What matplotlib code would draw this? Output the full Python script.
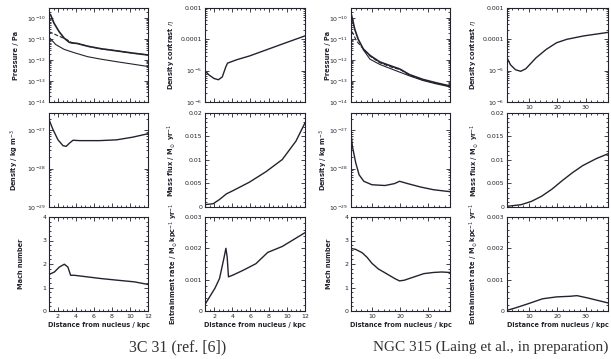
import numpy as np
import matplotlib
matplotlib.use("Agg")
from matplotlib import pyplot as plt
from matplotlib.ticker import AutoMinorLocator, LogLocator, NullFormatter

# ---- 3C 31 data (distance in kpc) ----
p1_hi_x = [1.0, 1.19, 1.56, 2.12, 2.68, 3.24, 3.5, 4.17, 5.29, 6.78, 8.65, 10.5, 12.0]
p1_hi_y = [-9.75, -9.84, -10.23, -10.63, -10.94, -11.14, -11.17, -11.2, -11.33, -11.45, -11.56, -11.67, -11.75]
p1_mid_x = [1.0, 1.5, 2.0, 2.5, 3.0, 3.5, 4.17, 5.29, 6.78, 8.65, 10.5, 12.0]
p1_mid_y = [-10.63, -10.73, -10.83, -10.92, -11.02, -11.15, -11.2, -11.33, -11.45, -11.56, -11.67, -11.75]
p1_lo_x = [1.0, 1.1, 1.75, 2.68, 3.8, 5.29, 6.78, 8.65, 10.5, 12.0]
p1_lo_y = [-10.9, -10.94, -11.25, -11.48, -11.64, -11.83, -11.95, -12.08, -12.2, -12.3]

eta1_x = [1.0, 1.5, 2.0, 2.47, 2.9, 3.3, 3.48, 4.5, 5.9, 7.8, 9.6, 12.0]
eta1_y = [-5.02, -5.15, -5.25, -5.29, -5.2, -4.87, -4.76, -4.65, -4.53, -4.33, -4.14, -3.89]

rho1_x = [1.0, 1.44, 2.0, 2.55, 2.9, 3.3, 3.67, 4.4, 6.6, 8.5, 10.3, 12.0]
rho1_y = [-26.72, -26.98, -27.25, -27.4, -27.42, -27.33, -27.26, -27.27, -27.27, -27.25, -27.18, -27.09]

mf1_x = [1.0, 1.9, 2.6, 3.36, 4.1, 5.0, 5.9, 7.7, 9.5, 11.0, 12.0]
mf1_y = [0.0005, 0.0007, 0.0016, 0.0028, 0.0035, 0.0044, 0.0053, 0.0075, 0.0101, 0.0140, 0.0179]

mach1_x = [1.0, 1.6, 2.15, 2.7, 3.1, 3.4, 3.8, 5.3, 6.8, 8.6, 10.5, 12.0]
mach1_y = [1.55, 1.66, 1.87, 1.99, 1.87, 1.52, 1.52, 1.45, 1.38, 1.31, 1.24, 1.13]

ent1_x = [1.0, 1.55, 2.1, 2.6, 3.07, 3.3, 3.44, 3.58, 4.1, 5.2, 6.6, 7.9, 9.5, 12.0]
ent1_y = [0.00021, 0.00047, 0.00073, 0.00104, 0.00167, 0.0020, 0.00172, 0.00109, 0.00115, 0.0013, 0.00151, 0.00187, 0.00206, 0.0025]

# ---- NGC 315 data ----
p2_a_x = [2.5, 2.9, 3.7, 4.9, 6.7, 9.1, 12.6, 17.4, 19.8, 23.3, 28.1, 32.8, 37.7]
p2_a_y = [-9.85, -10.08, -10.54, -11.0, -11.46, -11.77, -12.08, -12.31, -12.42, -12.69, -12.92, -13.08, -13.23]
p2_b_x = [2.5, 2.9, 4.3, 6.7, 9.1, 12.6, 17.4, 20.0, 23.3, 28.1, 32.8, 37.7]
p2_b_y = [-10.62, -10.69, -11.08, -11.46, -11.8, -12.12, -12.36, -12.45, -12.72, -12.95, -13.1, -13.25]
p2_c_x = [6.7, 9.1, 12.6, 17.4, 23.3, 28.1, 32.8, 37.7]
p2_c_y = [-11.5, -11.95, -12.2, -12.45, -12.75, -12.97, -13.13, -13.27]

eta2_x = [2.3, 3.5, 5.3, 7.1, 8.9, 12.5, 16.1, 19.7, 23.3, 29.3, 37.7]
eta2_y = [-4.59, -4.81, -4.97, -5.02, -4.94, -4.59, -4.32, -4.11, -4.0, -3.89, -3.78]

rho2_x = [2.5, 2.8, 4.0, 5.2, 6.9, 9.8, 14.5, 17.9, 19.7, 22.6, 27.3, 31.9, 37.7]
rho2_y = [-27.2, -27.42, -27.85, -28.16, -28.33, -28.42, -28.44, -28.39, -28.33, -28.39, -28.48, -28.55, -28.6]

mf2_x = [2.3, 7.3, 10.9, 14.5, 18.1, 21.7, 25.3, 28.9, 33.7, 37.7]
mf2_y = [0.00014, 0.0005, 0.0012, 0.0023, 0.0038, 0.0056, 0.0073, 0.0088, 0.0103, 0.0113]

mach2_x = [2.5, 4.0, 6.3, 8.1, 9.8, 12.1, 15.0, 18.0, 19.7, 21.4, 24.9, 28.4, 31.9, 34.8, 37.7]
mach2_y = [2.66, 2.62, 2.48, 2.28, 2.03, 1.79, 1.59, 1.38, 1.28, 1.31, 1.45, 1.59, 1.64, 1.66, 1.64]

ent2_x = [2.3, 5.3, 10.0, 14.8, 19.7, 24.5, 26.9, 30.5, 34.1, 37.7]
ent2_y = [0.00002, 0.0001, 0.00024, 0.00039, 0.00045, 0.00047, 0.00049, 0.00042, 0.00034, 0.00026]

col_x = [(49, 148), (205, 305), (351, 450), (507, 608)]
row_y = [(8, 102), (113, 207), (217, 311)]
# distance (px) from axes left edge to the centre of each y label
lab_off = [[33, 31, 28], [32, 30, 28], [23, 24, 22], [32, 29, 30]]
W, H = 611, 359
ink = '#23232f'
fs = 4.5

fig = plt.figure(figsize=(W / 100, H / 100), dpi=100)


def panel(c, r):
    x0, x1 = col_x[c]
    y0, y1 = row_y[r]
    ax = fig.add_axes([x0 / W, 1 - y1 / H, (x1 - x0) / W, (y1 - y0) / H])
    for s in ax.spines.values():
        s.set_color(ink)
        s.set_linewidth(0.8)
    ax.tick_params(which='both', direction='in', top=True, right=True,
                   labelsize=fs, colors=ink, width=0.6, pad=2)
    ax.tick_params(which='major', length=3)
    ax.tick_params(which='minor', length=1.5)
    return ax


def setx(ax, c, r):
    if c < 2:
        ax.set_xlim(1, 12)
        ax.set_xticks([2, 4, 6, 8, 10, 12])
        ax.xaxis.set_minor_locator(AutoMinorLocator(4))
    else:
        ax.set_xlim(2.3, 37.8)
        ax.set_xticks([10, 20, 30])
        ax.xaxis.set_minor_locator(AutoMinorLocator(5))
    if r < 2 and not (c == 3 and r == 0):
        ax.set_xticklabels([])
    if r == 2:
        ax.set_xlabel('Distance from nucleus / kpc', fontsize=4.7, color=ink,
                      fontweight='bold', labelpad=2)


def logy(ax, lo, hi):
    ax.set_yscale('log')
    ax.set_ylim(10.0 ** lo, 10.0 ** hi)
    ax.yaxis.set_minor_locator(LogLocator(base=10, subs=np.arange(2, 10)))
    ax.yaxis.set_minor_formatter(NullFormatter())


def ylab(ax, c, r, s):
    ax.set_ylabel(s, fontsize=4.8, color=ink, fontweight='bold')
    w = col_x[c][1] - col_x[c][0]
    ax.yaxis.set_label_coords(-(lab_off[c][r] - 3) / w, 0.5)


def draw(ax, x, ylog, ls='-', lw=1.0):
    ax.plot(x, 10.0 ** np.array(ylog), color=ink, ls=ls, lw=lw)


press_ticks = [1e-14, 1e-13, 1e-12, 1e-11, 1e-10]
press_labels = ['$10^{-14}$', '$10^{-13}$', '$10^{-12}$', '$10^{-11}$', '$10^{-10}$']
eta_ticks = [1e-6, 1e-5, 1e-4, 1e-3]
eta_labels = ['$10^{-6}$', '$10^{-5}$', '0.0001', '0.001']
rho_ticks = [1e-29, 1e-28, 1e-27]
rho_labels = ['$10^{-29}$', '$10^{-28}$', '$10^{-27}$']

for k in range(2):
    cp, cq = 2 * k, 2 * k + 1
    # pressure
    ax = panel(cp, 0)
    logy(ax, -14, -9.5)
    ax.set_yticks(press_ticks, press_labels)
    if k == 0:
        draw(ax, p1_lo_x, p1_lo_y, lw=0.8)
        draw(ax, p1_mid_x, p1_mid_y, ls='--', lw=0.8)
        draw(ax, p1_hi_x, p1_hi_y, lw=1.2)
    else:
        draw(ax, p2_c_x, p2_c_y, lw=0.8)
        draw(ax, p2_b_x, p2_b_y, ls='--', lw=0.8)
        draw(ax, p2_a_x, p2_a_y, lw=1.2)
    setx(ax, cp, 0)
    ylab(ax, cp, 0, 'Pressure / Pa')

    # density contrast
    ax = panel(cq, 0)
    logy(ax, -6, -3)
    ax.set_yticks(eta_ticks, eta_labels)
    if k == 0:
        draw(ax, eta1_x, eta1_y)
    else:
        draw(ax, eta2_x, eta2_y)
    setx(ax, cq, 0)
    ylab(ax, cq, 0, r'Density contrast $\eta$')

    # density
    ax = panel(cp, 1)
    logy(ax, -29, -26.55)
    ax.set_yticks(rho_ticks, rho_labels)
    if k == 0:
        draw(ax, rho1_x, rho1_y)
    else:
        draw(ax, rho2_x, rho2_y)
    setx(ax, cp, 1)
    ylab(ax, cp, 1, r'Density / kg m$^{-3}$')

    # mass flux
    ax = panel(cq, 1)
    if k == 0:
        ax.plot(mf1_x, mf1_y, color=ink, lw=1.0)
    else:
        ax.plot(mf2_x, mf2_y, color=ink, lw=1.0)
    ax.set_ylim(0, 0.02)
    ax.set_yticks([0, 0.005, 0.01, 0.015, 0.02], ['0', '0.005', '0.01', '0.015', '0.02'])
    ax.yaxis.set_minor_locator(AutoMinorLocator(5))
    setx(ax, cq, 1)
    ylab(ax, cq, 1, r'Mass flux / M$_\odot$ yr$^{-1}$')

    # mach number
    ax = panel(cp, 2)
    if k == 0:
        ax.plot(mach1_x, mach1_y, color=ink, lw=1.0)
    else:
        ax.plot(mach2_x, mach2_y, color=ink, lw=1.0)
    ax.set_ylim(0, 4)
    ax.set_yticks([0, 1, 2, 3, 4])
    ax.yaxis.set_minor_locator(AutoMinorLocator(5))
    setx(ax, cp, 2)
    ylab(ax, cp, 2, 'Mach number')

    # entrainment rate
    ax = panel(cq, 2)
    if k == 0:
        ax.plot(ent1_x, ent1_y, color=ink, lw=1.0)
    else:
        ax.plot(ent2_x, ent2_y, color=ink, lw=1.0)
    ax.set_ylim(0, 0.003)
    ax.set_yticks([0, 0.001, 0.002, 0.003], ['0', '0.001', '0.002', '0.003'])
    ax.yaxis.set_minor_locator(AutoMinorLocator(5))
    setx(ax, cq, 2)
    ylab(ax, cq, 2, r'Entrainment rate / M$_\odot$kpc$^{-1}$ yr$^{-1}$')

fig.text(178 / W, 1 - 347 / H, '3C 31 (ref. [6])', family='Liberation Serif',
         fontsize=11.5, color='#333333', ha='center', va='center')
fig.text(491 / W, 1 - 347 / H, 'NGC 315 (Laing et al., in preparation)',
         family='Liberation Serif', fontsize=11, color='#333333', ha='center', va='center')

fig.savefig('out.png', dpi=100)
